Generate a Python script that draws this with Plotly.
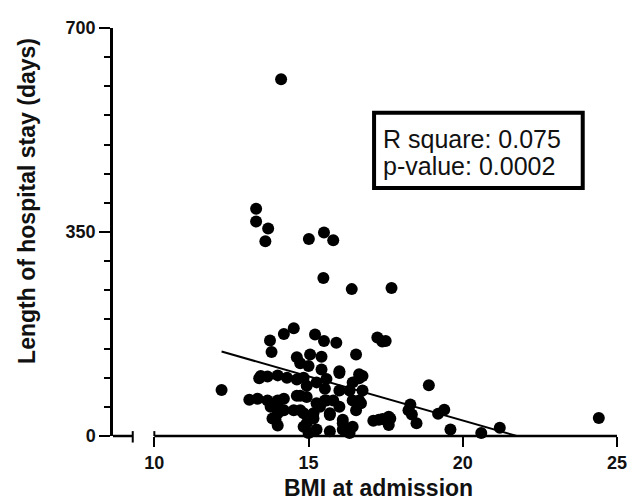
import plotly.graph_objects as go

# BMI at admission (x) and length of hospital stay in days (y)
bmi = [14.11, 13.3, 13.3, 13.69, 13.6, 15.01, 15.5, 15.8, 15.48, 16.4, 17.69, 17.5, 18.9, 24.41,
       18.3, 18.35, 18.5, 17.6, 17.6, 19.2, 19.4, 19.6, 20.6, 21.2, 17.1, 17.4, 17.65, 17.28,
       13.75, 13.8, 14.2, 14.52, 15.21, 15.5, 15.9, 16.54, 17.23, 17.39, 12.18,
       14.62, 15.05, 15.42, 14.73, 15.0, 15.42, 16.0, 16.64,
       13.4, 13.67, 14.0, 14.3, 14.62, 14.94, 15.26, 15.58, 15.53, 16.43, 16.64, 16.33, 14.84, 16.0, 16.75,
       13.08, 13.35, 13.67, 14.0, 14.2, 14.62, 13.77, 14.0, 13.83, 14.0, 14.2, 14.52, 14.84, 14.94, 15.0,
       15.16, 15.37, 15.53, 15.8, 16.0, 15.69, 15.69, 16.11, 16.43, 16.33, 16.54, 16.64, 16.75, 13.93,
       14.0, 14.73, 14.73, 15.16, 15.26, 15.58, 16.0, 16.43, 16.7, 14.84, 15.26, 15.69, 16.11, 16.11,
       14.94, 13.45, 18.24, 17.55]
los = [612, 390, 368, 356, 334, 338, 349, 336, 271, 252, 254, 163, 87, 31,
       54, 37, 22, 33, 19, 38, 45, 11, 5, 14, 26, 29, 30, 28,
       164, 144, 175, 185, 174, 163, 160, 140, 169, 162, 79,
       135, 140, 136, 125, 120, 114, 111, 106,
       99, 102, 104, 100, 97, 86, 92, 98, 81, 92, 99, 78, 100, 108, 103,
       62, 64, 61, 61, 64, 69, 50, 39, 30, 18, 44, 44, 39, 22, 5,
       30, 50, 61, 61, 50, 36, 8, 22, 16, 5, 44, 61, 78, 28,
       56, 69, 44, 39, 56, 61, 78, 61, 56, 16, 11, 39, 28, 11,
       67, 103, 44, 30]

# regression line end points
line_x = [12.18, 21.75]
line_y = [145, 0]

x_ticks = [10, 15, 20, 25]
y_ticks = [0, 350, 700]
stats_lines = ["R square: 0.075", "p-value: 0.0002"]

FONT = "Liberation Sans, Arial, sans-serif"
X_MIN, X_MAX = 8.66, 25.0
BREAK_X = 9.3

fig = go.Figure()
fig.add_trace(go.Scatter(x=bmi, y=los, mode="markers", cliponaxis=False,
                         marker=dict(color="black", size=12, line=dict(width=0)),
                         showlegend=False))
fig.add_trace(go.Scatter(x=line_x, y=line_y, mode="lines", cliponaxis=False,
                         line=dict(color="black", width=2), showlegend=False))

# the page body adds an 8px offset, so the figure is 8px smaller and shifted margins compensate
fig.update_layout(
    width=629, height=495,
    margin=dict(l=105, r=12, t=10, b=66.5),
    plot_bgcolor="white", paper_bgcolor="white",
    font=dict(family=FONT, color="black"),
    xaxis=dict(range=[X_MIN, X_MAX], showgrid=False, zeroline=False, showline=False,
               tickmode="array", tickvals=x_ticks, ticks="outside", ticklen=10, tickwidth=2,
               tickcolor="black",
               tickfont=dict(size=18, family=FONT, weight="bold", color="#111")),
    yaxis=dict(range=[0, 700], showgrid=False, zeroline=False, showline=True,
               linecolor="black", linewidth=2.5,
               tickmode="array", tickvals=y_ticks, ticks="outside", ticklen=11, tickwidth=2,
               tickcolor="black",
               tickfont=dict(size=18, family=FONT, weight="bold", color="#111"),
               minor=dict(dtick=50, tick0=0, ticks="outside", ticklen=6, tickwidth=2,
                          tickcolor="black")),
)

# broken x axis line
fig.add_shape(type="line", xref="x", yref="paper", x0=X_MIN, x1=BREAK_X, y0=0, y1=0,
              line=dict(color="black", width=2.5))
fig.add_shape(type="line", xref="x", yref="paper", x0=BREAK_X, x1=BREAK_X, y0=0.012, y1=-0.016,
              line=dict(color="black", width=2))
fig.add_shape(type="line", xref="x", yref="paper", x0=10, x1=X_MAX, y0=0, y1=0,
              line=dict(color="black", width=2.5))
fig.add_shape(type="line", xref="x", yref="paper", x0=10, x1=10, y0=0.012, y1=0,
              line=dict(color="black", width=2))

# stats box
fig.add_shape(type="rect", xref="paper", yref="paper", x0=0.518, x1=0.932, y0=0.608, y1=0.792,
              line=dict(color="black", width=4), fillcolor="white")
fig.add_annotation(xref="paper", yref="paper", x=0.532, y=0.728, xanchor="left", yanchor="middle",
                   text=stats_lines[0], showarrow=False, font=dict(size=25, family=FONT, color="#111"))
fig.add_annotation(xref="paper", yref="paper", x=0.532, y=0.661, xanchor="left", yanchor="middle",
                   text=stats_lines[1], showarrow=False, font=dict(size=25, family=FONT, color="#111"))

# axis titles
fig.add_annotation(xref="paper", yref="paper", x=0.527, y=-0.128, xanchor="center", yanchor="middle",
                   text="BMI at admission", showarrow=False,
                   font=dict(size=23, family=FONT, weight="bold", color="#111"))
fig.add_annotation(xref="paper", yref="paper", x=-0.172, y=0.577, xanchor="center", yanchor="middle",
                   text="Length of hospital stay (days)", showarrow=False, textangle=-90,
                   font=dict(size=23, family=FONT, weight="bold", color="#111"))

fig.write_html("out.html")
